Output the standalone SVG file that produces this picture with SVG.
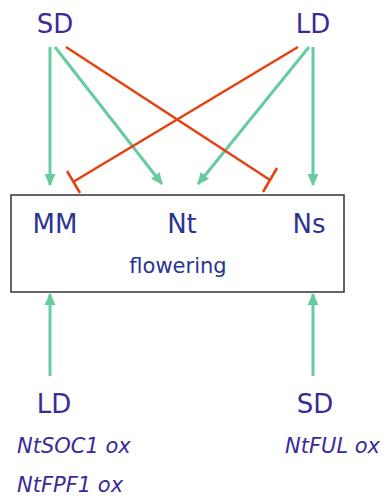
<svg xmlns="http://www.w3.org/2000/svg" width="390" height="498" viewBox="0 0 390 498">
<defs>
<marker id="ah" markerWidth="12" markerHeight="12" viewBox="0 0 12 12" refX="11" refY="6" orient="auto" markerUnits="userSpaceOnUse">
<path d="M0,0.5 L12,6 L0,11.5 z" fill="#66cc9f"/>
</marker>
<style>
.lbl{font-family:"Comic Sans MS","DejaVu Sans",sans-serif;fill:#3c2a98;text-anchor:middle}
.big{font-size:26px}
.inn{font-family:"Comic Sans MS","DejaVu Sans",sans-serif;fill:#2b3490;text-anchor:middle}
.it{font-family:"Comic Sans MS","DejaVu Sans",sans-serif;fill:#3c2a98;font-style:italic;font-size:21px}
.act{stroke:#66cc9f;stroke-width:3;fill:none;marker-end:url(#ah)}
.inh{stroke:#e5400e;stroke-width:2.5;fill:none}
</style>
</defs>
<rect width="390" height="498" fill="#ffffff"/>
<g id="connectors">
<line class="act" x1="50" y1="47" x2="50" y2="185"/>
<line class="act" x1="55" y1="47" x2="162" y2="184"/>
<line class="act" x1="309" y1="47" x2="198" y2="184"/>
<line class="act" x1="313" y1="47" x2="313" y2="185"/>
<line class="inh" x1="66" y1="47" x2="270" y2="180"/>
<line class="inh" x1="277" y1="168" x2="263" y2="192"/>
<line class="inh" x1="298" y1="47" x2="73" y2="182"/>
<line class="inh" x1="67" y1="171" x2="80" y2="193"/>
<line class="act" x1="50" y1="376" x2="50" y2="294"/>
<line class="act" x1="313" y1="376" x2="313" y2="294"/>
</g>
<g id="SD_top"><text class="lbl big" x="55" y="33">SD</text></g>
<g id="LD_top"><text class="lbl big" x="313" y="33">LD</text></g>
<g id="box">
<rect x="11" y="195" width="333" height="97" fill="#ffffff" stroke="#333333" stroke-width="1.5"/>
<text class="inn big" x="55" y="233">MM</text>
<text class="inn big" x="182" y="233">Nt</text>
<text class="inn big" x="309" y="233">Ns</text>
<text class="inn" x="178" y="273" font-size="21">flowering</text>
</g>
<g id="LD_bottom">
<text class="lbl big" x="54" y="413">LD</text>
<text class="it" x="17" y="453">NtSOC1 ox</text>
<text class="it" x="17" y="492">NtFPF1 ox</text>
</g>
<g id="SD_bottom">
<text class="lbl big" x="315" y="413">SD</text>
<text class="it" x="285" y="453">NtFUL ox</text>
</g>
</svg>
